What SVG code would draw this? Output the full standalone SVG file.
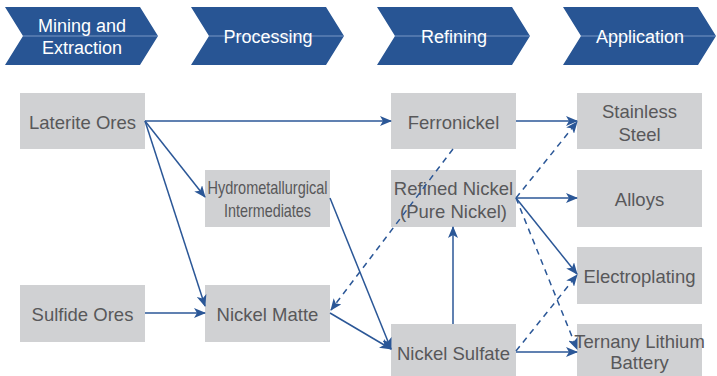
<svg xmlns="http://www.w3.org/2000/svg" width="717" height="376" viewBox="0 0 717 376">
<style>
.chev{fill:#285594;}
.cline{stroke:#8ea8d2;stroke-width:0.8;}
.ct{fill:#ffffff;font-family:"Liberation Sans",Arial,sans-serif;font-size:18px;text-anchor:middle;}
.box{fill:#d0d1d3;}
.t{fill:#58585a;font-family:"Liberation Sans",Arial,sans-serif;font-size:18.5px;text-anchor:middle;}
.c{fill:none;stroke:#2b5797;stroke-width:1.5;}
.d{stroke-dasharray:6,5;}
</style>
<defs>
<marker id="ah" markerWidth="12" markerHeight="10" refX="11" refY="5" orient="auto" markerUnits="userSpaceOnUse">
<path d="M0,0 L12,5 L0,10 L3,5 Z" fill="#2b5797"/>
</marker>
</defs>
<rect width="717" height="376" fill="#ffffff"/>

<g id="stage-mining">
<polygon class="chev" points="5,7 140,7 158,36 140,65 5,65 23,36"/>
<line class="cline" x1="23" y1="36" x2="158" y2="36"/>
<text class="ct" x="82" y="32">Mining and</text>
<text class="ct" x="82" y="54">Extraction</text>
</g>
<g id="stage-processing">
<polygon class="chev" points="191,7 326,7 344,36 326,65 191,65 209,36"/>
<line class="cline" x1="209" y1="36" x2="344" y2="36"/>
<text class="ct" x="268" y="42.5">Processing</text>
</g>
<g id="stage-refining">
<polygon class="chev" points="377,7 512,7 530,36 512,65 377,65 395,36"/>
<line class="cline" x1="395" y1="36" x2="530" y2="36"/>
<text class="ct" x="454" y="42.5">Refining</text>
</g>
<g id="stage-application">
<polygon class="chev" points="563,7 698,7 716,36 698,65 563,65 581,36"/>
<line class="cline" x1="581" y1="36" x2="716" y2="36"/>
<text class="ct" x="640" y="42.5">Application</text>
</g>

<g id="laterite-ores">
<rect class="box" x="20" y="93" width="125" height="56"/>
<text class="t" x="82.5" y="129">Laterite Ores</text>
</g>
<g id="hydrometallurgical">
<rect class="box" x="205" y="170" width="125" height="57"/>
<text class="t" x="267.5" y="193.5" font-size="15" textLength="120" lengthAdjust="spacingAndGlyphs">Hydrometallurgical</text>
<text class="t" x="267.5" y="216.5" font-size="15" textLength="87" lengthAdjust="spacingAndGlyphs">Intermediates</text>
</g>
<g id="sulfide-ores">
<rect class="box" x="20" y="285" width="125" height="57"/>
<text class="t" x="82.5" y="321">Sulfide Ores</text>
</g>
<g id="nickel-matte">
<rect class="box" x="205" y="285" width="125" height="57"/>
<text class="t" x="267.5" y="321">Nickel Matte</text>
</g>
<g id="ferronickel">
<rect class="box" x="391" y="93" width="125" height="56"/>
<text class="t" x="453.5" y="129">Ferronickel</text>
</g>
<g id="refined-nickel">
<rect class="box" x="391" y="170" width="125" height="57"/>
<text class="t" x="453.5" y="194.5">Refined Nickel</text>
<text class="t" x="453.5" y="217.5">(Pure Nickel)</text>
</g>
<g id="nickel-sulfate">
<rect class="box" x="391" y="324" width="125" height="57"/>
<text class="t" x="453.5" y="359.5">Nickel Sulfate</text>
</g>
<g id="stainless-steel">
<rect class="box" x="577" y="93" width="125" height="56"/>
<text class="t" x="639.5" y="117.5">Stainless</text>
<text class="t" x="639.5" y="140.5">Steel</text>
</g>
<g id="alloys">
<rect class="box" x="577" y="170" width="125" height="57"/>
<text class="t" x="639.5" y="205.5">Alloys</text>
</g>
<g id="electroplating">
<rect class="box" x="577" y="247" width="125" height="57"/>
<text class="t" x="639.5" y="282.5">Electroplating</text>
</g>
<g id="ternary-lithium-battery">
<rect class="box" x="577" y="324" width="125" height="57"/>
<text class="t" x="639.5" y="348" font-size="16.5">Ternany Lithium</text>
<text class="t" x="639.5" y="369" font-size="16.5">Battery</text>
</g>

<g id="connectors">
<path class="c" d="M145,121 L391,121" marker-end="url(#ah)"/>
<path class="c" d="M145,121 L205,197" marker-end="url(#ah)"/>
<path class="c" d="M145,121 L205,306" marker-end="url(#ah)"/>
<path class="c" d="M145,313 L205,313" marker-end="url(#ah)"/>
<path class="c" d="M330,198 L391,349" marker-end="url(#ah)"/>
<path class="c" d="M330,313 L391,349" marker-end="url(#ah)"/>
<path class="c" d="M453,324 L453,227" marker-end="url(#ah)"/>
<path class="c d" d="M453,149 L331,310" marker-end="url(#ah)"/>
<path class="c" d="M516,121 L577,121" marker-end="url(#ah)"/>
<path class="c d" d="M516,198 L577,122" marker-end="url(#ah)"/>
<path class="c" d="M516,198 L577,198" marker-end="url(#ah)"/>
<path class="c" d="M516,198 L577,274" marker-end="url(#ah)"/>
<path class="c d" d="M516,198 L577,349" marker-end="url(#ah)"/>
<path class="c d" d="M516,351 L577,275" marker-end="url(#ah)"/>
<path class="c" d="M516,352 L577,352" marker-end="url(#ah)"/>
</g>
</svg>
